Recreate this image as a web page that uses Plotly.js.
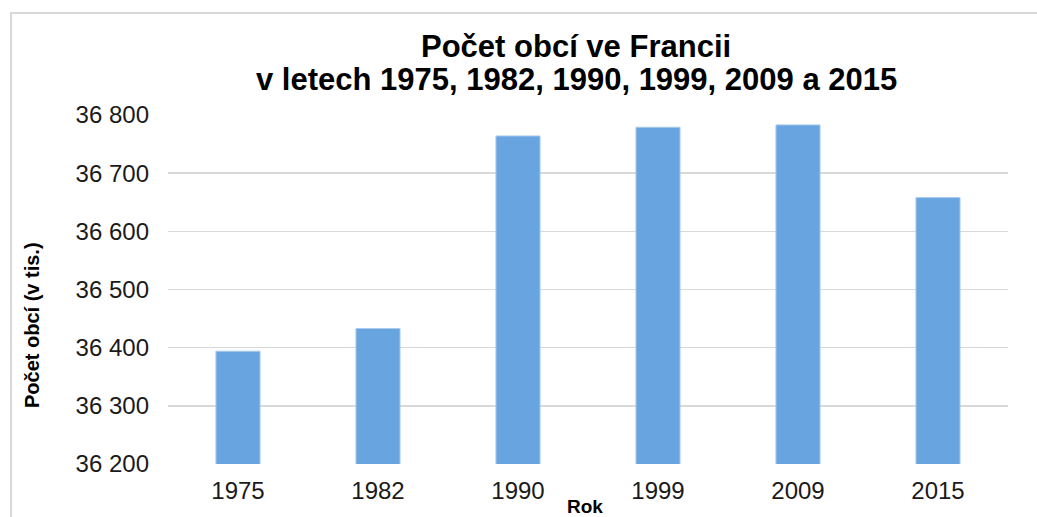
<!DOCTYPE html>
<html>
<head>
<meta charset="utf-8">
<script src="https://cdn.plot.ly/plotly-3.0.1.min.js"></script>
<style>
html,body{margin:0;padding:0;background:#fff;}
#chart{width:1037px;height:517px;}
</style>
</head>
<body>
<div id="chart"></div>
<script>
const years = ['1975', '1982', '1990', '1999', '2009', '2015'];
const communes = [36394, 36433, 36764, 36779, 36783, 36658];
const yTickVals = [36200, 36300, 36400, 36500, 36600, 36700, 36800];
const titleLine1 = 'Počet obcí ve Francii';
const titleLine2 = 'v letech 1975, 1982, 1990, 1999, 2009 a 2015';
const xTitle = 'Rok';
const yTitle = 'Počet obcí (v tis.)';

const W = 1037, H = 517;
const M = {l: 168, r: 29, t: 115, b: 53};
const pw = W - M.l - M.r, ph = H - M.t - M.b;
const px = x => (x - M.l) / pw;
const py = y => (H - M.b - y) / ph;

const font = 'Liberation Sans, Arial, sans-serif';

const trace = {
  type: 'bar',
  x: years,
  y: communes,
  width: 0.315,
  marker: {color: '#68a5e0', line: {color: '#a9ccee', width: 1}},
  hoverinfo: 'x+y'
};

function ann(text, x, y, size, extra) {
  return Object.assign({text: '<b>' + text + '</b>', xref: 'paper', yref: 'paper',
    x: px(x), y: py(y), xanchor: 'center', yanchor: 'middle', showarrow: false,
    font: {family: font, size: size, color: '#000'}}, extra || {});
}

const layout = {
  width: W, height: H,
  margin: M,
  paper_bgcolor: '#fff', plot_bgcolor: '#fff',
  separators: ', ',
  showlegend: false,
  font: {family: font, color: '#1a1a1a'},
  xaxis: {
    type: 'category',
    showgrid: false, zeroline: false, showline: false,
    ticks: '', tickfont: {family: font, size: 24, color: '#1a1a1a'},
    ticklabelstandoff: 10
  },
  yaxis: {
    range: [36200, 36800],
    tickvals: yTickVals,
    tickformat: ',d',
    showgrid: true, gridcolor: '#d9d9d9', gridwidth: 1.5,
    zeroline: false, showline: false, ticks: '',
    tickfont: {family: font, size: 24, color: '#1a1a1a'},
    ticklabelstandoff: 18
  },
  annotations: [
    ann(titleLine1, 576, 47, 31),
    ann(titleLine2, 576, 79, 31),
    ann(xTitle, 585, 506, 19),
    ann(yTitle, 32, 325, 20, {textangle: -90})
  ],
  shapes: [
    {type: 'path', xref: 'paper', yref: 'paper',
     path: 'M ' + px(11) + ' ' + py(530) + ' L ' + px(11) + ' ' + py(13) + ' L ' + px(1045) + ' ' + py(13),
     line: {color: '#d9d9d9', width: 2}}
  ]
};

Plotly.newPlot('chart', [trace], layout, {displayModeBar: false, staticPlot: true});
</script>
</body>
</html>
